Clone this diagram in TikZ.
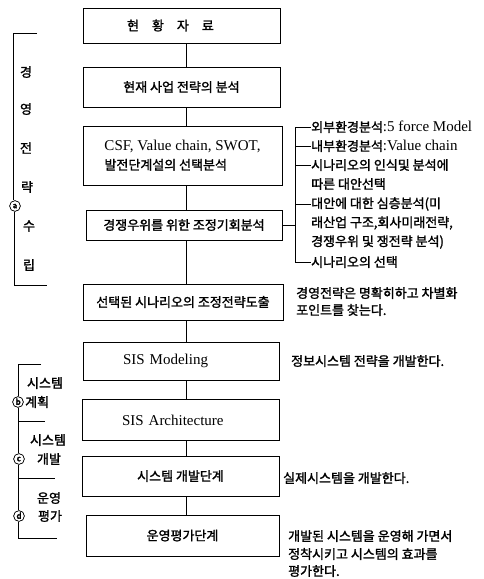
\documentclass[tikz,border=0pt]{standalone}
\usepackage{fontspec}
\setmainfont{Liberation Serif}
\newfontfamily\krf{Noto Sans CJK KR}[FakeBold=1.6]
\newcommand\kr{\krf\fontsize{13}{15}\selectfont}
\newcommand\ltn{\rmfamily\fontsize{15}{15}\selectfont}
\begin{document}
\begin{tikzpicture}[x=1pt,y=-1pt,
  box/.style={draw, line width=0.8pt, inner sep=0pt, align=center, font=\kr},
  lbox/.style={box, align=left, text width=#1},
  ann/.style={anchor=west, inner sep=0pt, font=\kr},
  side/.style={inner sep=0pt, font=\kr},
  circ/.style={inner sep=0.5pt, fill=white, font=\krf\fontsize{12}{12}\selectfont},
  ln/.style={line width=0.8pt}]
\useasboundingbox (0,0) rectangle (484,579);
\fill[white] (0,0) rectangle (484,579);
\coordinate (spine) at (186,0);
\coordinate (brk) at (295,0);

% main boxes
\node[lbox=197pt, minimum height=35pt] (b1) at (181.5,25.5) {\hspace*{44pt}현\hspace{13pt}황\hspace{13pt}자\hspace{13pt}료};
\node[box, minimum width=197pt, minimum height=40pt] (b2) at (181.5,87) {현재 사업 전략의 분석};
\node[box, minimum width=199pt, minimum height=59pt, align=left] (b3) at (182.5,155.5) {{\ltn CSF, Value chain, SWOT,}\\[4pt]발전단계설의 선택분석};
\node[box, minimum width=196pt, minimum height=30pt] (b4) at (184,225) {경쟁우위를 위한 조정기회분석};
\node[box, minimum width=200pt, minimum height=36pt] (b5) at (183,302) {선택된 시나리오의 조정전략도출};
\node[lbox=196pt, minimum height=38pt, font=\ltn] (b6) at (181,361) {\hspace*{40pt}SIS Modeling};
\node[lbox=197pt, minimum height=41pt, font=\ltn] (b7) at (180.5,420) {\hspace*{40pt}SIS Architecture};
\node[box, minimum width=197pt, minimum height=40pt] (b8) at (180.5,476) {시스템 개발단계};
\node[box, minimum width=193pt, minimum height=41pt] (b9) at (182.5,535.5) {운영평가단계};

% spine connectors
\draw[ln] (b1.south -| spine) -- (b2.north -| spine);
\draw[ln] (b2.south -| spine) -- (b3.north -| spine);
\draw[ln] (b3.south -| spine) -- (b4.north -| spine);
\draw[ln] (b4.south -| spine) -- (b5.north -| spine);
\draw[ln] (b5.south -| spine) -- (b6.north -| spine);
\draw[ln] (b6.south -| spine) -- (b7.north -| spine);
\draw[ln] (b7.south -| spine) -- (b8.north -| spine);
\draw[ln] (b8.south -| spine) -- (b9.north -| spine);

% right annotations for CSF / analysis
\node[ann] (r1) at (311,127) {외부환경분석{\ltn :5 force Model}};
\node[ann] (r2) at (311,146) {내부환경분석{\ltn :Value chain}};
\node[ann] (r3) at (311,165) {시나리오의 인식및 분석에};
\node[ann] (r4) at (311,184) {따른 대안선택};
\node[ann] (r5) at (311,204) {대안에 대한 심층분석(미};
\node[ann] (r6) at (311,223) {래산업 구조,회사미래전략,};
\node[ann] (r7) at (311,242) {경쟁우위 및 쟁전략 분석)};
\node[ann] (r8) at (311,262) {시나리오의 선택};
\draw[ln] (r1.west -| brk) -- (r8.west -| brk);
\foreach \r in {r1,r2,r3,r5,r8} \draw[ln] (\r.west -| brk) -- (\r.west);
\draw[ln] (b4.east) -- (b4.east -| brk);

% other annotations
\node[ann] (n1) at (296,293) {경영전략은 명확히하고 차별화};
\node[ann] (n2) at (296,310) {포인트를 찾는다.};
\node[ann] (n3) at (291,361) {정보시스템 전략을 개발한다.};
\node[ann] (n4) at (283,478) {실제시스템을 개발한다.};
\node[ann] (n5) at (288,536) {개발된 시스템을 운영해 가면서};
\node[ann] (n6) at (288,554) {정착시키고 시스템의 효과를};
\node[ann] (n7) at (288,571) {평가한다.};

% left bracket a
\node[side] (k1) at (26,72) {경};
\node[side] (k2) at (26,109) {영};
\node[side] (k3) at (26,148) {전};
\node[side] (k4) at (27,187) {략};
\node[circ] (ca) at (15,206) {ⓐ};
\node[side] (k5) at (29,226) {수};
\node[side] (k6) at (29,265) {립};
\coordinate (a0) at (13,33);
\coordinate (a1) at (14,285);
\draw[ln] (37,33) -- (a0) -- (ca.north -| a0);
\draw[ln] (ca.south -| a1) -- (a1) -- (47,285);

% left brackets b, c, d
\coordinate (v0) at (18,364);
\coordinate (v1) at (18,538);
\draw[ln] (41,364) -- (v0) -- (v1) -- (57,538);
\draw[ln] (v0 |- 0,421) -- (45,421);
\draw[ln] (v0 |- 0,478) -- (55,478);
\node[side] (s1) at (45,383) {시스템};
\node[circ] (cb) at (18,402) {ⓑ};
\node[side, anchor=west] (s2) at (25,402) {계획};
\node[side] (s3) at (48,440) {시스템};
\node[circ] (cc) at (19,459) {ⓒ};
\node[side] (s4) at (49,459) {개발};
\node[side] (s5) at (49,498) {운영};
\node[circ] (cd) at (19,516) {ⓓ};
\node[side] (s6) at (50,516) {평가};
\end{tikzpicture}
\end{document}
